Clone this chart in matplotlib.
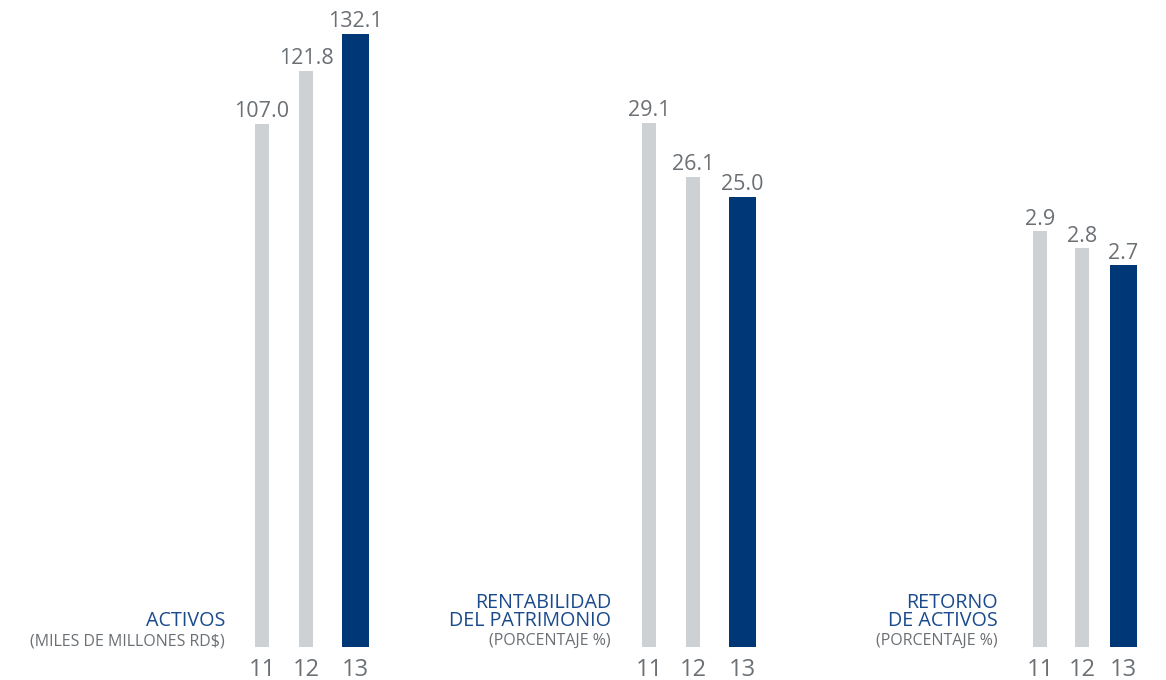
import matplotlib.pyplot as plt
import numpy as np

plt.rcParams['font.family'] = ['Open Sans', 'DejaVu Sans']

years = ['11', '12', '13']
activos = [107.0, 121.8, 132.1]
rentabilidad = [29.1, 26.1, 25.0]
retorno = [2.9, 2.8, 2.7]
value_labels = [['107.0', '121.8', '132.1'], ['29.1', '26.1', '25.0'], ['2.9', '2.8', '2.7']]
titles = [['ACTIVOS'], ['RENTABILIDAD', 'DEL PATRIMONIO'], ['RETORNO', 'DE ACTIVOS']]
subtitles = ['(MILES DE MILLONES RD$)', '(PORCENTAJE %)', '(PORCENTAJE %)']

series = [activos, rentabilidad, retorno]

GRAY = '#cdd1d4'
BLUE = '#003877'
TXT = '#6b7075'
TBLUE = '#1a4a8c'

W, H = 1166, 680
# layout in pixels: group left edge, bar lefts, bar widths, axis floor value, px per unit, title right edge
layout = [
    dict(left=255, lefts=[0, 44, 87], widths=[14, 14, 27], lo=-38.8, ppu=3.586, tright=225),
    dict(left=642, lefts=[0, 44, 87], widths=[14, 14, 27], lo=0.0, ppu=18.0, tright=611),
    dict(left=1033, lefts=[0, 42, 77], widths=[14, 14, 27], lo=0.456, ppu=170.0, tright=998),
]
bottom_px, top_px = 646.5, 20

fig = plt.figure(figsize=(W / 100, H / 100), dpi=100)

for vals, labs, tl, sub, lay in zip(series, value_labels, titles, subtitles, layout):
    span = lay['lefts'][-1] + lay['widths'][-1]
    ax = fig.add_axes([lay['left'] / W, 1 - bottom_px / H, span / W, (bottom_px - top_px) / H])
    lo = lay['lo']
    ax.set_xlim(0, span)
    ax.set_ylim(lo, lo + (bottom_px - top_px) / lay['ppu'])
    vals = np.array(vals)
    bars = ax.bar(lay['lefts'], vals - lo, width=lay['widths'], bottom=lo, align='edge',
                  color=[GRAY, GRAY, BLUE])
    ax.bar_label(bars, labels=labs, padding=1, fontsize=15.5, color=TXT)
    centers = np.array(lay['lefts']) + np.array(lay['widths']) / 2
    ax.set_xticks(centers, years)
    ax.tick_params(axis='x', length=0, pad=8, labelsize=17, labelcolor=TXT)
    ax.set_yticks([])
    for s in ax.spines.values():
        s.set_visible(False)
    ax.patch.set_alpha(0)

    # titles on the left of each group
    n = len(tl)
    for i, line in enumerate(tl):
        y = 626 - (n - 1 - i) * 18
        fig.text(lay['tright'] / W, 1 - y / H, line, ha='right', va='baseline',
                 fontsize=14.2, color=TBLUE)
    fig.text(lay['tright'] / W, 1 - 645 / H, sub, ha='right', va='baseline',
             fontsize=11.5, color=TXT)

fig.savefig('out.png', dpi=100)
